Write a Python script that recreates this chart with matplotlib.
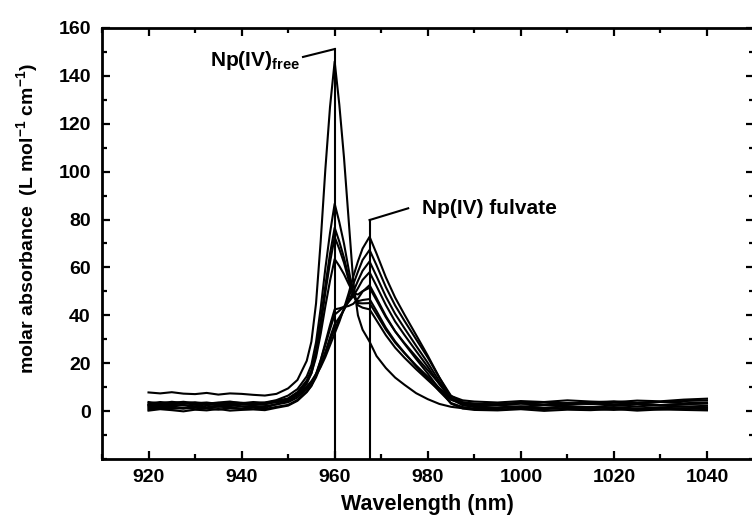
import matplotlib
matplotlib.use('Agg')
import matplotlib.pyplot as plt
from matplotlib.ticker import MultipleLocator

plt.rcParams['font.family'] = 'Liberation Sans'
plt.rcParams['font.weight'] = 'bold'
plt.rcParams['axes.labelweight'] = 'bold'
plt.rcParams['mathtext.fontset'] = 'custom'
plt.rcParams['mathtext.rm'] = 'Liberation Sans:bold'
plt.rcParams['mathtext.it'] = 'Liberation Sans:bold'
plt.rcParams['mathtext.default'] = 'rm'

# wavelength grid (nm)
wavelength = [920, 922.5, 925, 927.5, 930, 932.5, 935, 937.5, 940, 942.5, 945,
              947.5, 950, 952, 954, 955, 956, 957, 958, 959, 960, 961, 962, 963,
              964, 965, 966, 967.5, 969, 971, 973, 975, 977.5, 980, 982.5, 985,
              987.5, 990, 995, 1000, 1005, 1010, 1015, 1020, 1025, 1030, 1035, 1040]

# molar absorbance of each titration step (L mol-1 cm-1)
spec1 = [7.8, 7.4, 7.9, 7.3, 7.1, 7.6, 6.9, 7.4, 7.2, 6.8, 6.5,
         7.2, 9.5, 13, 21, 29, 45, 71, 101, 127, 146, 128, 106, 80,
         54, 40, 34, 29, 23, 18, 14, 11, 7.5, 5, 3, 1.8,
         1.2, 1.0, 1.4, 2.0, 1.3, 0.9, 1.6, 1.2, 0.8, 1.3, 1.0, 1.5]
spec2 = [3.2, 3.8, 3.4, 3.9, 3.3, 3.6, 3.0, 3.7, 3.5, 3.1, 3.6,
         4.6, 6.5, 9.2, 14.5, 19.3, 28.8, 43.0, 59.6, 74.4, 86.6, 78.9, 70.0, 59.3,
         48.9, 44.2, 43.2, 42.5, 37.9, 31.7, 26.5, 22.3, 17.5, 13.0, 8.6, 4.7,
         3.3, 2.6, 2.9, 3.4, 2.5, 2.8, 3.3, 2.6, 3.0, 2.4, 2.9, 3.2]
spec3 = [2.2, 2.8, 2.3, 2.6, 2.0, 2.9, 2.4, 2.1, 2.7, 2.5, 2.8,
         3.9, 5.2, 7.9, 12.8, 17.1, 25.5, 38.0, 52.5, 65.7, 76.6, 70.8, 64.1, 56.0,
         48.1, 45.1, 45.0, 45.1, 40.4, 34.0, 28.6, 24.2, 19.1, 14.4, 9.6, 5.2,
         3.6, 3.1, 2.7, 3.5, 3.8, 3.2, 3.6, 4.1, 3.5, 3.9, 4.2, 4.5]
spec4 = [1.2, 1.8, 1.4, 1.0, 1.6, 1.3, 1.9, 1.5, 1.1, 1.7, 1.4,
         2.9, 4.2, 6.8, 11.5, 15.8, 23.8, 35.6, 49.4, 62.1, 72.7, 67.7, 62.0, 54.8,
         48.2, 45.9, 46.4, 46.8, 41.8, 34.8, 29.1, 24.4, 18.7, 13.6, 8.3, 3.4,
         1.7, 1.0, 0.6, 1.2, 0.8, 1.4, 0.9, 0.5, 1.1, 0.7, 1.2, 0.8]
spec5 = [2.7, 3.3, 2.9, 3.5, 2.6, 3.1, 3.4, 2.8, 3.2, 2.9, 3.3,
         4.2, 5.3, 7.8, 12.2, 15.8, 22.5, 32.3, 43.8, 54.4, 63.5, 60.6, 57.2, 53.1,
         49.3, 48.7, 50.1, 51.5, 46.3, 39.2, 33.3, 28.4, 22.7, 17.1, 11.4, 6.3,
         4.5, 4.0, 3.6, 4.2, 3.8, 4.5, 4.0, 3.7, 4.4, 4.1, 4.8, 5.2]
spec6 = [0.2, 0.8, 0.4, -0.1, 0.6, 0.3, 0.9, 0.2, 0.5, 0.7, 0.4,
         1.4, 2.3, 4.3, 7.9, 10.5, 15.0, 21.3, 28.6, 35.9, 42.5, 42.9, 43.5, 43.9,
         44.8, 47.0, 49.9, 52.6, 47.2, 39.7, 33.3, 28.1, 21.8, 15.7, 9.2, 3.1,
         1.1, 0.5, 0.3, 0.8, 0.1, 0.6, 0.4, 0.9, 0.2, 0.7, 0.5, 0.3]
spec7 = [1.7, 2.3, 1.9, 2.5, 1.6, 2.2, 1.8, 2.4, 2.0, 1.7, 2.1,
         2.8, 3.7, 5.7, 9.2, 11.7, 15.6, 21.2, 27.6, 34.2, 40.3, 41.9, 43.6, 45.6,
         48.0, 51.3, 54.8, 58.0, 52.2, 44.3, 37.4, 31.8, 25.1, 18.5, 11.3, 4.9,
         2.6, 2.0, 2.3, 1.8, 2.6, 2.1, 1.7, 2.4, 2.0, 2.5, 1.9, 2.2]
spec8 = [0.7, 1.3, 0.9, 1.5, 0.8, 1.1, 0.6, 1.2, 1.0, 1.4, 0.9,
         1.8, 2.6, 4.7, 8.2, 10.6, 14.1, 19.0, 24.7, 30.7, 36.3, 39.1, 42.3, 45.8,
         49.9, 54.4, 58.6, 62.5, 56.3, 47.8, 40.6, 34.6, 27.3, 20.2, 12.4, 5.4,
         3.1, 2.5, 2.6, 3.1, 2.8, 3.4, 2.9, 3.5, 3.2, 3.8, 3.3, 3.6]
spec9 = [3.8, 3.2, 3.9, 3.4, 3.7, 3.1, 3.6, 4.0, 3.3, 3.8, 3.5,
         4.2, 5.0, 7.0, 10.3, 12.5, 15.5, 19.4, 24.0, 29.3, 34.4, 38.2, 42.5, 47.4,
         53.0, 58.2, 63.1, 67.3, 60.9, 51.8, 44.1, 37.7, 30.0, 22.4, 14.0, 6.4,
         3.7, 3.1, 2.8, 3.3, 2.6, 3.0, 3.4, 2.7, 3.1, 2.5, 2.9, 3.3]
spec10 = [2.6, 3.2, 2.8, 3.4, 2.9, 3.3, 2.7, 3.1, 3.0, 2.8, 3.2,
          3.7, 4.4, 6.5, 10.0, 12.1, 14.9, 18.4, 22.6, 27.5, 32.4, 37.3, 42.9, 49.2,
          56.2, 62.5, 67.9, 72.8, 65.8, 55.9, 47.4, 40.3, 31.8, 23.2, 14.0, 5.5,
          2.5, 1.7, 1.2, 1.8, 1.4, 2.0, 1.3, 1.7, 1.1, 1.6, 1.9, 1.4]

spectra = [spec1, spec2, spec3, spec4, spec5, spec6, spec7, spec8, spec9, spec10]

peak_free = 960.0
peak_fulvate = 967.5

fig = plt.figure(figsize=(7.52, 5.25), dpi=100)
ax = fig.add_axes([0.1356, 0.1257, 0.8664, 0.8210])

for s in spectra:
    ax.plot(wavelength, s, color='black', lw=1.5)

# marker lines for the two band positions
ax.plot([peak_free, peak_free], [-20, 151.2], color='black', lw=1.5)
ax.plot([peak_free, 953.2], [151.2, 147.9], color='black', lw=1.5)
ax.plot([peak_fulvate, peak_fulvate], [-20, 79.8], color='black', lw=1.5)
ax.plot([peak_fulvate, 975.8], [79.8, 84.7], color='black', lw=1.5)
ax.text(952.5, 144.3, r'Np(IV)$_{\rm free}$', ha='right', va='baseline', fontsize=15)
ax.text(978.8, 82.5, 'Np(IV) fulvate', ha='left', va='baseline', fontsize=15)

ax.set_xlim(910, 1050)
ax.set_ylim(-20, 160)
ax.set_xticks(range(920, 1041, 20))
ax.set_yticks(range(0, 161, 20))
ax.xaxis.set_minor_locator(MultipleLocator(10))
ax.yaxis.set_minor_locator(MultipleLocator(10))
ax.tick_params(which='both', direction='in', top=True, right=True, width=1.6)
ax.tick_params(which='major', length=6, labelsize=14)
ax.tick_params(which='minor', length=3.5)
ax.tick_params(axis='x', pad=7.5)
ax.tick_params(axis='y', pad=8)
for sp in ax.spines.values():
    sp.set_linewidth(2.0)

ax.set_xlabel('Wavelength (nm)', fontsize=15.5)
ax.set_ylabel('molar absorbance  (L mol$^{-1}$ cm$^{-1}$)', fontsize=14)
ax.xaxis.set_label_coords(0.5, -0.081)
ax.yaxis.set_label_coords(-0.095, 0.559)

fig.savefig('out.png', dpi=100)
